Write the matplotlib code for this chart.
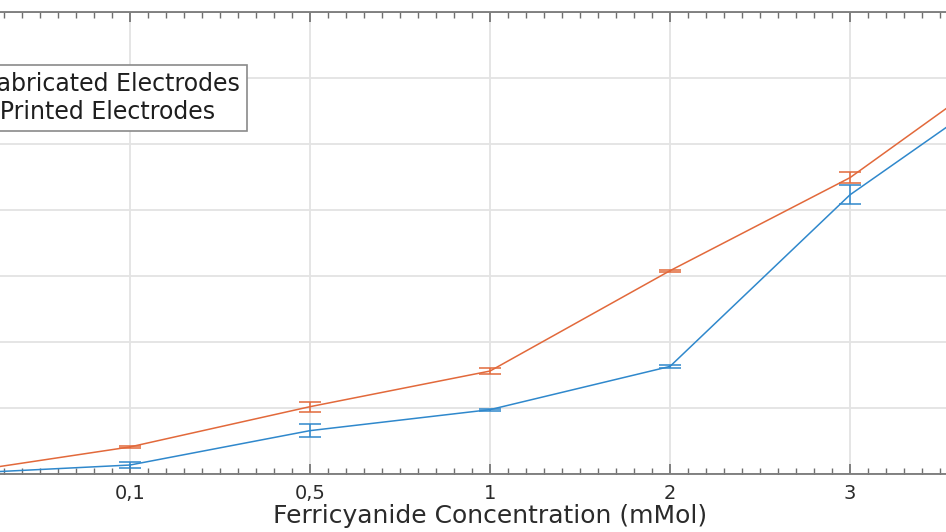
import matplotlib
matplotlib.use("Agg")
import matplotlib.pyplot as plt
import numpy as np
from matplotlib.ticker import MultipleLocator

# concentration categories (mMol), plotted at equally spaced positions
categories = ["0", "0,1", "0,5", "1", "2", "3", "4"]

# response of each electrode type with error bars
fab_values = [0.0, 1.36, 6.57, 9.75, 16.3, 42.3, 61.4]
fab_errors = [0.0, 0.4, 1.0, 0.15, 0.2, 1.45, 0.0]
spe_values = [0.0, 4.1, 10.2, 15.6, 30.8, 44.9, 64.5]
spe_errors = [0.0, 0.2, 0.75, 0.5, 0.15, 0.8, 0.0]

labels = ["In-lab Fabricated Electrodes", "Screen Printed Electrodes"]

W, H = 946, 532
fig = plt.figure(figsize=(W / 100, H / 100), dpi=100)

# axes run past the left and right edges of the picture (cropped view)
x_left, x_right = -50, 1030
y_bottom, y_top = 474, 12
ax = fig.add_axes([x_left / W, 1 - y_bottom / H,
                   (x_right - x_left) / W, (y_bottom - y_top) / H])

pos = np.arange(len(categories))
blue = "#2f88cc"
orange = "#e2693b"

ax.errorbar(pos, fab_values, yerr=fab_errors, color=blue, lw=1.1,
            capsize=8, capthick=1.1, elinewidth=1.1, label=labels[0])
ax.errorbar(pos, spe_values, yerr=spe_errors, color=orange, lw=1.1,
            capsize=8, capthick=1.1, elinewidth=1.1, label=labels[1])

ax.set_xlim(0, len(categories) - 1)
ax.set_ylim(0, 70)
ax.set_xticks(pos)
ax.set_xticklabels(categories)
ax.xaxis.set_minor_locator(MultipleLocator(0.1))
ax.yaxis.set_major_locator(MultipleLocator(10))
ax.yaxis.set_minor_locator(MultipleLocator(2))

ax.grid(True, which="major", color="#e3e3e3", lw=1.3)
ax.set_axisbelow(True)

for s in ax.spines.values():
    s.set_color("#6e6e6e")
    s.set_linewidth(1.2)
ax.tick_params(which="both", direction="in", top=True, right=True,
               color="#6e6e6e", labelleft=False)
ax.tick_params(which="major", length=7, width=1.2, labelsize=14,
               labelcolor="#2b2b2b", pad=7)
ax.tick_params(which="minor", length=4, width=1.0)

ax.set_xlabel("Ferricyanide Concentration (mMol)", fontsize=18,
              color="#2b2b2b", labelpad=1)

leg = ax.legend(loc="upper right", bbox_to_anchor=(247 / W, 1 - 65 / H),
                bbox_transform=fig.transFigure, fontsize=17, frameon=True,
                fancybox=False, framealpha=1, borderpad=0.3,
                borderaxespad=0, handlelength=2.0, labelspacing=0.15)
leg.get_frame().set_edgecolor("#8a8a8a")
leg.get_frame().set_linewidth(1.2)
for t in leg.get_texts():
    t.set_color("#1e1e1e")

fig.savefig("out.png", dpi=100)
